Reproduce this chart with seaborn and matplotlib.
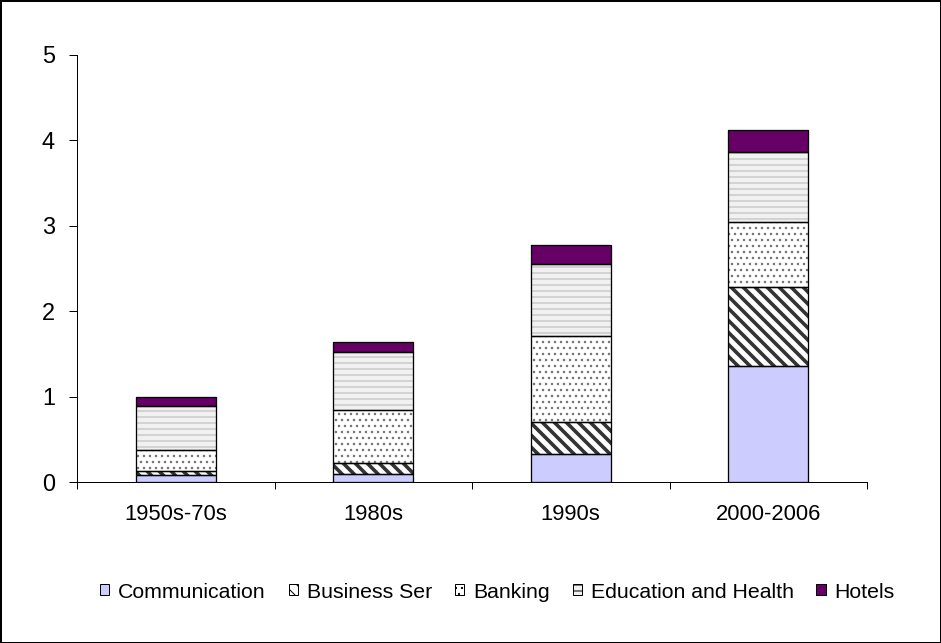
import matplotlib
matplotlib.use("Agg")
import matplotlib.pyplot as plt
import matplotlib.patches as mpatches
import numpy as np
import seaborn as sns

# Daten
periods = ["1950s-70s", "1980s", "1990s", "2000-2006"]
series_names = ["Communication", "Business Ser", "Banking", "Education and Health", "Hotels"]
communication = [0.08, 0.10, 0.33, 1.36]
business_ser = [0.05, 0.13, 0.37, 0.93]
banking = [0.25, 0.62, 1.01, 0.76]
education_health = [0.51, 0.67, 0.85, 0.81]
hotels = [0.11, 0.12, 0.22, 0.26]
y_ticks = [0, 1, 2, 3, 4, 5]

# Stil je Reihe: Füllfarbe, Schraffur, Schraffurfarbe, Schraffurbreite
styles = [
    ("#CCCCFF", None, "#CCCCFF", 1.0),
    ("#FFFFFF", "\\\\", "#333333", 3.6),
    ("#FFFFFF", "..", "#777777", 1.3),
    ("#F1F1F1", "--", "#C4C4C4", 1.3),
    ("#660066", None, "#660066", 1.0),
]

sns.set_style("white")
plt.rcParams["font.family"] = ["Liberation Sans", "DejaVu Sans"]
plt.rcParams["text.color"] = "black"

DPI = 72
fig = plt.figure(figsize=(941 / DPI, 643 / DPI), dpi=DPI, facecolor="white",
                 edgecolor="black", linewidth=1.2)
ax = fig.add_axes([77 / 941, 1 - 482.3 / 643, 790 / 941, (482.3 - 55) / 643])

values = [communication, business_ser, banking, education_health, hotels]
bottom = np.zeros(len(periods))
for vals, (face, hatch, hcol, hlw) in zip(values, styles):
    n0 = len(ax.patches)
    with plt.rc_context({"hatch.linewidth": hlw}):
        sns.barplot(x=periods, y=vals, bottom=bottom, color=face, saturation=1,
                    edgecolor=hcol, linewidth=0, hatch=hatch, width=0.405, ax=ax, zorder=2)
    for p in ax.patches[n0:]:
        if hasattr(p, "set_hatch_linewidth"):
            p.set_hatch_linewidth(hlw)
    # schwarze Umrandung
    sns.barplot(x=periods, y=vals, bottom=bottom, color="black", fill=False,
                linewidth=1.3, width=0.405, ax=ax, zorder=3)
    bottom = bottom + np.array(vals)

ax.set_xlim(-0.5, 3.5)
ax.set_ylim(0, 5)
ax.set_yticks(y_ticks)
ax.set_xticks(range(len(periods)))
ax.set_xticklabels(periods)
ax.set_xticks(np.arange(-0.5, len(periods), 1.0), minor=True)
ax.tick_params(axis="x", which="major", bottom=False, length=0, pad=22, labelsize=22,
               labelcolor="black")
ax.tick_params(axis="x", which="minor", bottom=True, length=7, width=1, color="black", direction="out")
ax.tick_params(axis="y", left=True, length=8, width=1, color="black", direction="out", pad=14,
               labelsize=23.5, labelcolor="black")
ax.set_xlabel("")
ax.set_ylabel("")
ax.grid(False)
for side in ["top", "right"]:
    ax.spines[side].set_visible(False)
for side in ["left", "bottom"]:
    ax.spines[side].set_color("black")
    ax.spines[side].set_linewidth(1)

handles = []
for name, (face, hatch, hcol, hlw) in zip(series_names, styles):
    h = mpatches.Patch(facecolor=face, edgecolor="black", hatch=hatch, linewidth=1, label=name)
    if hasattr(h, "set_hatch_linewidth"):
        h.set_hatch_linewidth(1.0)
    handles.append(h)
leg = fig.legend(handles=handles, loc="center", bbox_to_anchor=(497.5 / 941, 1 - 592 / 643),
                 ncol=5, frameon=False, fontsize=21.2, handlelength=0.43, handleheight=0.43,
                 handletextpad=0.42, columnspacing=1.08, borderpad=0)
for t in leg.get_texts():
    t.set_color("black")

fig.savefig("out.png", dpi=DPI)
plt.close(fig)
